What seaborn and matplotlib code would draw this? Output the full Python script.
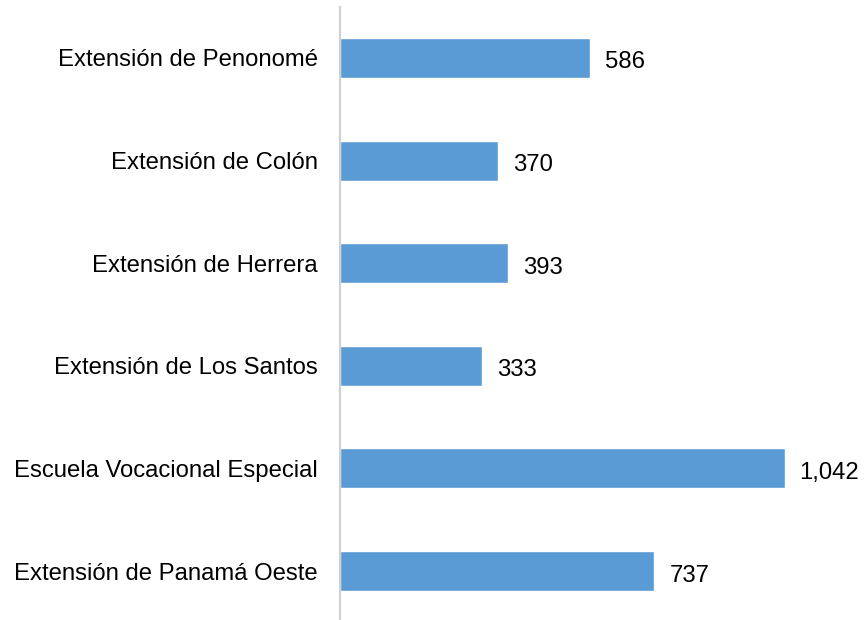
import matplotlib
matplotlib.use("Agg")
import matplotlib.pyplot as plt
import seaborn as sns
import pandas as pd

categories = [
    "Extensión de Penonomé",
    "Extensión de Colón",
    "Extensión de Herrera",
    "Extensión de Los Santos",
    "Escuela Vocacional Especial",
    "Extensión de Panamá Oeste",
]
values = [586, 370, 393, 333, 1042, 737]

sns.set_theme(style="white")
plt.rcParams["font.family"] = ["Liberation Sans", "DejaVu Sans"]

df = pd.DataFrame({"cat": categories, "val": values})

fig = plt.figure(figsize=(8.67, 6.2), dpi=100)
ax = fig.add_axes([340 / 867, -2.3 / 620, (862 - 340) / 867, 615.6 / 620])

sns.barplot(data=df, x="val", y="cat", color="#5B9BD5", saturation=1,
            width=0.39, ax=ax, orient="h")

px_per_unit = 250 / 586
ax.set_xlim(0, (862 - 340) / px_per_unit)
ax.set_ylim(5.5, -0.5)

for i, v in enumerate(values):
    ax.annotate(f"{v:,}", xy=(v, i), xytext=(15, -2), textcoords="offset pixels",
                va="center_baseline", ha="left", fontsize=17.2, color="#000000")

for s in ["top", "right", "bottom"]:
    ax.spines[s].set_visible(False)
ax.spines["left"].set_color("#D0D0D0")
ax.spines["left"].set_linewidth(1.5)
ax.set_xticks([])
ax.set_xlabel("")
ax.set_ylabel("")
ax.tick_params(axis="y", length=0, pad=16, labelsize=17.2, labelcolor="#000000")

fig.savefig("out.png", dpi=100)
